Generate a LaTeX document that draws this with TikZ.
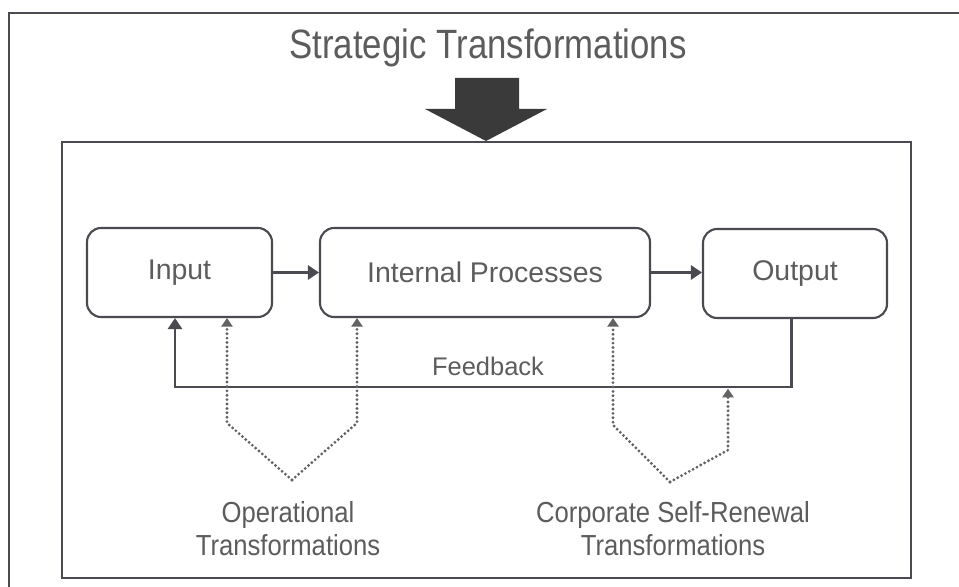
\documentclass[tikz,border=0pt]{standalone}
\usepackage{fontspec}
\setmainfont{Liberation Sans}
\newfontfamily\narrowsans[FakeStretch=0.85]{Liberation Sans}
\newfontfamily\captionsans[FakeStretch=0.885]{Liberation Sans}
\usetikzlibrary{arrows.meta}

\definecolor{inkgray}{HTML}{4A4A50}
\definecolor{textgray}{HTML}{5C5C5C}
\definecolor{dotgray}{HTML}{626262}
\definecolor{blockgray}{HTML}{3A3A3A}

\tikzset{
  stage/.style={draw=inkgray, line width=1.2pt, rounded corners=0.28cm,
    minimum height=1.78cm, inner sep=0pt, text=textgray,
    font=\fontsize{16.2}{19}\selectfont},
  flow/.style={draw=inkgray, line width=1.7pt,
    -{Triangle[length=0.22cm,width=0.28cm]}},
  dots/.style={draw=dotgray, line width=1.8pt, line cap=round,
    dash pattern=on 0pt off 2.5pt, -{Triangle[length=0.17cm,width=0.22cm]}},
  caption/.style={text=textgray, align=center,
    font=\captionsans\fontsize{16.5}{18.8}\selectfont},
  frame/.style={draw=inkgray, line width=1.4pt}
}

\begin{document}
\begin{tikzpicture}[x=0.02cm, y=-0.02cm]
\useasboundingbox (0,0) rectangle (959,587);

% frames
\draw[frame] (9,600) -- (9,13) -- (970,13);
\draw[frame] (62,142) rectangle (911,578);

% heading with the block arrow into the system
\node[caption, anchor=base, font=\narrowsans\fontsize{23.3}{28}\selectfont] (title) at (488,59) {Strategic Transformations};
\fill[blockgray] (455,78) -- (519,78) -- (519,109) -- (547,109) -- (486,141)
  -- (425,109) -- (455,109) -- cycle;

% the three stages
\node[stage, minimum width=3.7cm] (input) at (179.5,272.5) {Input};
\node[stage, minimum width=6.6cm] (internal) at (485,272.5) {Internal Processes};
\node[stage, minimum width=3.68cm] (output) at (795,273.5) {Output};

\draw[flow] (input) -- (internal);
\draw[flow] (internal.east) -- (internal.east -| output.west);

% feedback loop
\coordinate (fbR) at (791,387);
\coordinate (fbL) at (175,387);
\draw[flow] (output.south -| fbR) -- (fbR) -- (fbL) -- (input.south -| fbL);
\node[text=textgray, font=\fontsize{14.5}{17}\selectfont] (fb) at (488,366) {Feedback};

% operational transformations
\coordinate (opV) at (292,480);
\coordinate (opL) at (227,423);
\coordinate (opR) at (357,423);
\draw[dots] (opV) -- (opL) -- (opL |- input.south);
\draw[dots] (opV) -- (opR) -- (opR |- internal.south);
\node[caption] (opText) at (288,529) {Operational\\Transformations};

% corporate self-renewal transformations
\coordinate (crV) at (670,482);
\coordinate (crL) at (613,425);
\coordinate (crR) at (728,450);
\draw[dots] (crV) -- (crL) -- (crL |- internal.south);
\draw[dots, shorten >=1pt] (crV) -- (crR) -- (crR |- fbR);
\node[caption] (crText) at (673,529) {Corporate Self-Renewal\\Transformations};
\end{tikzpicture}
\end{document}
